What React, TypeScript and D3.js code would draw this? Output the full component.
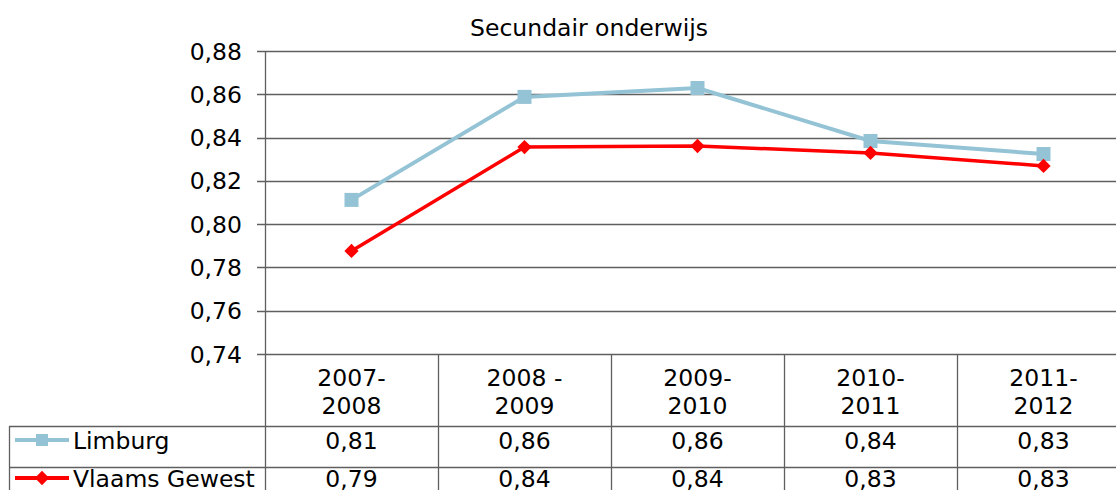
import React from "react";
import * as d3 from "d3";

const categories = ["2007-\n2008", "2008 -\n2009", "2009-\n2010", "2010-\n2011", "2011-\n2012"];
const limburg = [0.8112, 0.8588, 0.8629, 0.8384, 0.8324];
const vlaams = [0.7876, 0.8356, 0.8361, 0.8329, 0.8269];
const limburgLabels = ["0,81", "0,86", "0,86", "0,84", "0,83"];
const vlaamsLabels = ["0,79", "0,84", "0,84", "0,83", "0,83"];
const yTicks = [0.74, 0.76, 0.78, 0.8, 0.82, 0.84, 0.86, 0.88];
const title = "Secundair onderwijs";

const FONT = "'DejaVu Sans', Verdana, sans-serif";

export default function App() {
  const W = 1116, H = 490;
  const x = d3.scaleBand<string>().domain(categories).range([265, 1130]).paddingInner(0).paddingOuter(0);
  const y = d3.scaleLinear().domain([0.74, 0.88]).range([354, 51]);
  const cx = (c: string) => (x(c) as number) + x.bandwidth() / 2;
  const line = d3.line<number>().x((_, i) => cx(categories[i])).y((v) => y(v));
  const fmt = (v: number) => d3.format(".2f")(v).replace(".", ",");
  const rowTop = 426, rowMid = 467;
  const grid = "#5f5f5f";
  const fs = 23.5;
  const diamond = d3.symbol().type(d3.symbolDiamond2).size(130)();

  return (
    <svg width={W} height={H} style={{ position: "absolute", left: 0, top: 0 }} fontFamily={FONT}>
      <rect width={W} height={H} fill="#fff" />
      <text x={589} y={36} textAnchor="middle" fontSize={23.5} fill="#000">{title}</text>
      {yTicks.map((t) => (
        <g key={t}>
          <line x1={257} x2={1130} y1={Math.round(y(t)) + 0.5} y2={Math.round(y(t)) + 0.5} stroke={grid} strokeWidth={1.3} />
          <text x={242} y={y(t) + 8.5} textAnchor="end" fontSize={fs} fill="#000">{fmt(t)}</text>
        </g>
      ))}
      <line x1={265.5} x2={265.5} y1={51} y2={H} stroke={grid} strokeWidth={1.3} />
      {/* table */}
      {categories.map((c, i) => (
        <g key={c}>
          <line x1={(x(c) as number) + x.bandwidth() + 0.5} x2={(x(c) as number) + x.bandwidth() + 0.5} y1={354} y2={H} stroke={grid} strokeWidth={1.3} />
          {c.split("\n").map((s, j) => (
            <text key={j} x={cx(c)} y={386 + j * 28} textAnchor="middle" fontSize={fs} fill="#000">{s}</text>
          ))}
          <text x={cx(c)} y={449} textAnchor="middle" fontSize={fs} fill="#000">{limburgLabels[i]}</text>
          <text x={cx(c)} y={487} textAnchor="middle" fontSize={fs} fill="#000">{vlaamsLabels[i]}</text>
        </g>
      ))}
      <line x1={9} x2={1130} y1={rowTop + 0.5} y2={rowTop + 0.5} stroke={grid} strokeWidth={1.3} />
      <line x1={9} x2={1130} y1={rowMid + 0.5} y2={rowMid + 0.5} stroke={grid} strokeWidth={1.3} />
      <line x1={9.5} x2={9.5} y1={rowTop} y2={H} stroke={grid} strokeWidth={1.3} />
      {/* legend keys */}
      <line x1={15} x2={69} y1={440} y2={440} stroke="#93c3d5" strokeWidth={4} />
      <rect x={36} y={434} width={12} height={12} fill="#93c3d5" />
      <text x={73} y={449} fontSize={fs} fill="#000">Limburg</text>
      <line x1={15} x2={69} y1={478} y2={478} stroke="#ff0000" strokeWidth={4} />
      <path d={diamond as string} transform="translate(42,478)" fill="#ff0000" />
      <text x={73} y={487} fontSize={fs} fill="#000">Vlaams Gewest</text>
      {/* series */}
      <path d={line(limburg) as string} fill="none" stroke="#93c3d5" strokeWidth={4} />
      {limburg.map((v, i) => (
        <rect key={i} x={cx(categories[i]) - 7} y={y(v) - 7} width={14} height={14} fill="#93c3d5" />
      ))}
      <path d={line(vlaams) as string} fill="none" stroke="#ff0000" strokeWidth={3.5} />
      {vlaams.map((v, i) => (
        <path key={i} d={diamond as string} transform={`translate(${cx(categories[i])},${y(v)})`} fill="#ff0000" />
      ))}
    </svg>
  );
}
